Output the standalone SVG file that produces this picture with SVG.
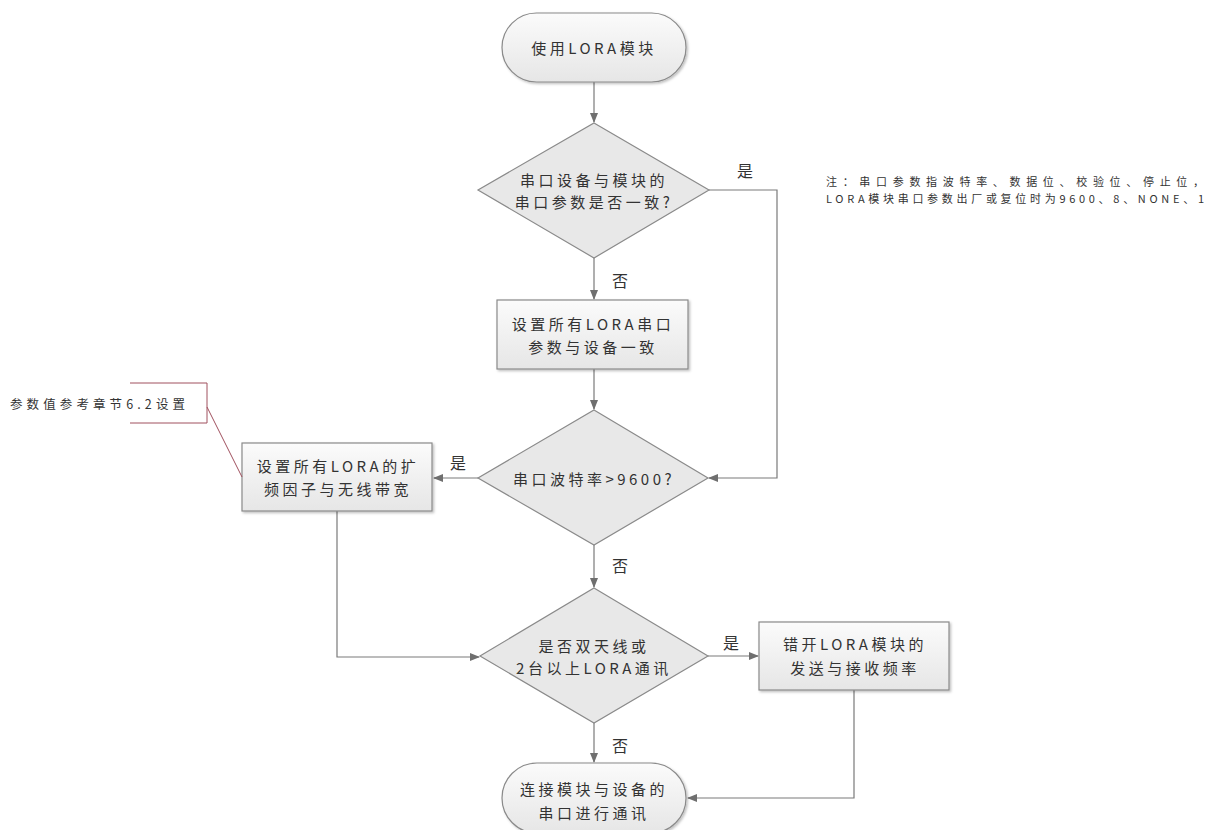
<svg xmlns="http://www.w3.org/2000/svg" width="1213" height="830" viewBox="0 0 1213 830">
<defs>
<linearGradient id="g" x1="0" y1="0" x2="0" y2="1">
<stop offset="0" stop-color="#fbfbfb"/>
<stop offset="1" stop-color="#e6e6e6"/>
</linearGradient>
<filter id="sh" x="-10%" y="-10%" width="125%" height="130%">
<feDropShadow dx="1.5" dy="1.5" stdDeviation="1" flood-color="#000" flood-opacity="0.25"/>
</filter>
<marker id="ah" markerWidth="10" markerHeight="8" refX="9" refY="4" orient="auto" markerUnits="userSpaceOnUse">
<path d="M0,0 L10,4 L0,8 Z" fill="#6f6f6f"/>
</marker>
<style>
.n{fill:url(#g);stroke:#8a8a8a;stroke-width:1.2;filter:url(#sh)}
.d{fill:#e8e8e8;stroke:#8a8a8a;stroke-width:1.2}
.t{font-family:"Noto Sans CJK SC","Liberation Sans",sans-serif;font-size:15px;fill:#333;text-anchor:middle;dominant-baseline:central;letter-spacing:3.5px}
.l{font-family:"Noto Sans CJK SC","Liberation Sans",sans-serif;font-size:16px;fill:#333;text-anchor:middle;dominant-baseline:central}
.note{font-family:"Noto Sans CJK SC","Liberation Sans",sans-serif;font-size:12.5px;fill:#333;dominant-baseline:central}
.c{fill:none;stroke:#7a7a7a;stroke-width:1.2;marker-end:url(#ah)}
</style>
</defs>
<rect width="1213" height="830" fill="#fff"/>
<g id="connectors">
<path class="c" d="M594,82 V122"/>
<path class="c" d="M594,258 V299"/>
<path class="c" d="M709,190 H777 V478 H709"/>
<path class="c" d="M594,369 V409"/>
<path class="c" d="M478,478 H434"/>
<path class="c" d="M594,545 V587"/>
<path class="c" d="M337,511 V657 H479"/>
<path class="c" d="M708,656 H758"/>
<path class="c" d="M594,723 V762"/>
<path class="c" d="M854,690 V798 H688"/>
<text class="l" x="745" y="170">是</text>
<text class="l" x="620" y="280">否</text>
<text class="l" x="458" y="462">是</text>
<text class="l" x="620" y="565">否</text>
<text class="l" x="731" y="642">是</text>
<text class="l" x="620" y="745">否</text>
</g>
<g id="start">
<rect class="n" x="502" y="13" width="184" height="69" rx="34.5"/>
<text class="t" x="594" y="47">使用LORA模块</text>
</g>
<g id="decision1">
<polygon class="d" points="594,123 709,190 594,258 478,190"/>
<text class="t" x="594" y="179">串口设备与模块的</text>
<text class="t" x="594" y="201">串口参数是否一致?</text>
</g>
<g id="setSerial">
<rect class="n" x="497" y="300" width="191" height="69"/>
<text class="t" x="593" y="323">设置所有LORA串口</text>
<text class="t" x="593" y="346">参数与设备一致</text>
</g>
<g id="decision2">
<polygon class="d" points="594,410 708,478 594,545 478,478"/>
<text class="t" x="594" y="478">串口波特率&gt;9600?</text>
</g>
<g id="setSpread">
<rect class="n" x="242" y="443" width="190" height="68"/>
<text class="t" x="338" y="465">设置所有LORA的扩</text>
<text class="t" x="338" y="488">频因子与无线带宽</text>
</g>
<g id="decision3">
<polygon class="d" points="594,588 708,656 594,723 480,656"/>
<text class="t" x="594" y="645">是否双天线或</text>
<text class="t" x="594" y="667">2台以上LORA通讯</text>
</g>
<g id="staggerFreq">
<rect class="n" x="759" y="622" width="190" height="68"/>
<text class="t" x="855" y="643">错开LORA模块的</text>
<text class="t" x="855" y="667">发送与接收频率</text>
</g>
<g id="end">
<rect class="n" x="502" y="763" width="184" height="70" rx="35"/>
<text class="t" x="594" y="788">连接模块与设备的</text>
<text class="t" x="594" y="812">串口进行通讯</text>
</g>
<g id="annotation">
<path d="M130,383 H207 V423 H130 M207,407 L242,477" fill="none" stroke="#a0505e" stroke-width="1"/>
<text class="note" x="10" y="403" textLength="175" lengthAdjust="spacing">参数值参考章节6.2设置</text>
</g>
<g id="note">
<text class="note" x="826" y="181" textLength="378" lengthAdjust="spacing" style="font-size:11px">注：串口参数指波特率、数据位、校验位、停止位，</text>
<text class="note" x="826" y="198" textLength="378" lengthAdjust="spacing" style="font-size:11px">LORA模块串口参数出厂或复位时为9600、8、NONE、1</text>
</g>
</svg>
